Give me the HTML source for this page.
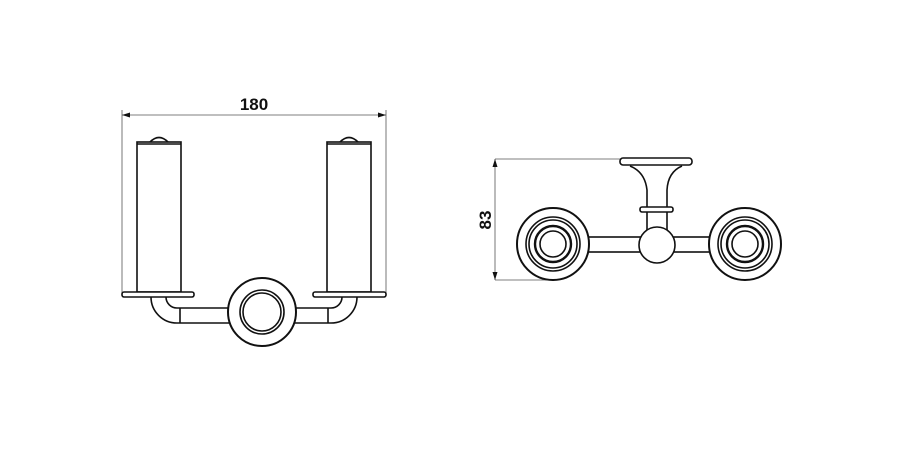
<!DOCTYPE html>
<html><head><style>body{margin:0;background:#fff}svg{display:block}</style></head><body>
<svg width="900" height="450" viewBox="0 0 900 450" xmlns="http://www.w3.org/2000/svg" fill="none" stroke="#111" stroke-width="1.6">
<g stroke-width="0.8" stroke="#555">
<line x1="122" y1="115" x2="386" y2="115"/>
<line x1="122" y1="110" x2="122" y2="293"/>
<line x1="386" y1="110" x2="386" y2="293"/>
</g>
<path d="M122 115 l8 -2.5 v5z M386 115 l-8 -2.5 v5z" fill="#111" stroke="none"/>
<text x="254" y="110" font-family="Liberation Sans, sans-serif" font-size="17" font-weight="bold" fill="#111" stroke="none" text-anchor="middle">180</text>
<rect x="137" y="142" width="44" height="150"/>
<path d="M150 142 q9 -9 18 0"/>
<line x1="137" y1="144" x2="181" y2="144"/>
<rect x="327" y="142" width="44" height="150"/>
<path d="M340 142 q9 -9 18 0"/>
<line x1="327" y1="144" x2="371" y2="144"/>
<path d="M151 297 A26 26 0 0 0 177 323 H331 A26 26 0 0 0 357 297"/>
<path d="M166 297 A11 11 0 0 0 177 308 H331 A11 11 0 0 0 342 297"/>
<line x1="180" y1="308" x2="180" y2="323"/><line x1="328" y1="308" x2="328" y2="323"/>
<rect x="122" y="292" width="72" height="5" rx="2" fill="#fff"/>
<rect x="313" y="292" width="73" height="5" rx="2" fill="#fff"/>
<circle cx="262" cy="312" r="34" fill="#fff" stroke-width="2"/>
<circle cx="262" cy="312" r="22"/>
<circle cx="262" cy="312" r="19" fill="#fff"/>
<g stroke-width="0.8" stroke="#555">
<line x1="495" y1="159" x2="495" y2="280"/>
<line x1="495" y1="159" x2="622" y2="159"/>
<line x1="495" y1="280" x2="550" y2="280"/>
</g>
<path d="M495 159 l-2.5 8 h5z M495 280 l-2.5 -8 h5z" fill="#111" stroke="none"/>
<text transform="translate(491 220) rotate(-90)" font-family="Liberation Sans, sans-serif" font-size="17" font-weight="bold" fill="#111" stroke="none" text-anchor="middle">83</text>
<rect x="587" y="237" width="124" height="15"/>
<path d="M630 166 Q645 172 647 190 V207 M682 166 Q668 172 667 190 V207"/>
<rect x="620" y="158" width="72" height="7" rx="3" fill="#fff"/>
<rect x="640" y="207" width="33" height="5" rx="2"/>
<path d="M647 212 V230 M667 212 V230"/>
<circle cx="657" cy="245" r="18" fill="#fff"/>
<g fill="#fff">
<circle cx="553" cy="244" r="36" stroke-width="2"/>
<circle cx="553" cy="244" r="27"/><circle cx="553" cy="244" r="24"/>
<circle cx="553" cy="244" r="18" stroke-width="2.4"/><circle cx="553" cy="244" r="13"/>
<circle cx="745" cy="244" r="36" stroke-width="2"/>
<circle cx="745" cy="244" r="27"/><circle cx="745" cy="244" r="24"/>
<circle cx="745" cy="244" r="18" stroke-width="2.4"/><circle cx="745" cy="244" r="13"/>
</g>
</svg>
</body></html>
